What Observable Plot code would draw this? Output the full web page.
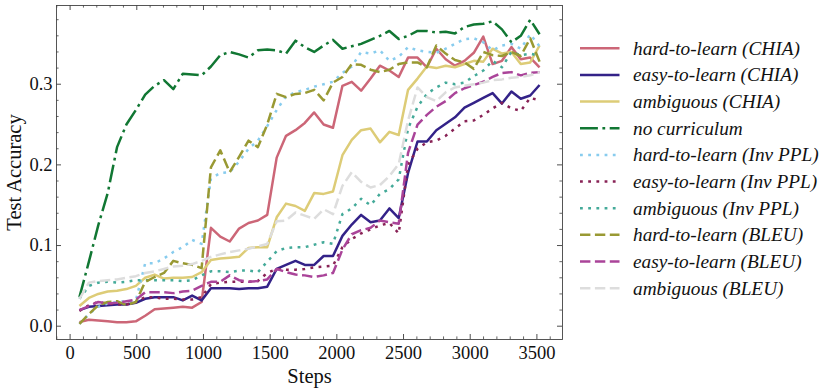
<!DOCTYPE html>
<html>
<head>
<meta charset="utf-8">
<script src="https://cdn.jsdelivr.net/npm/d3@7"></script>
<script src="https://cdn.jsdelivr.net/npm/@observablehq/plot@0.6"></script>
<style>
  html, body { margin: 0; padding: 0; background: #fff; }
  #wrap { position: relative; width: 830px; height: 389px; }
  #legend { position: absolute; left: 0; top: 0; }
</style>
</head>
<body>
<div id="wrap"></div>
<script>
// ---- data ----
const steps = [70, 141, 211, 282, 352, 422, 493, 563, 634, 704,
  774, 845, 915, 986, 1056, 1126, 1197, 1267, 1338, 1408,
  1478, 1549, 1619, 1690, 1760, 1830, 1901, 1971, 2042, 2112,
  2182, 2253, 2323, 2394, 2464, 2534, 2605, 2675, 2746, 2816,
  2886, 2957, 3027, 3098, 3168, 3238, 3309, 3379, 3450, 3520];

const hardCHIA = [0.005,0.008,0.007,0.006,0.005,0.005,0.006,0.013,0.021,0.022,
  0.023,0.024,0.023,0.030,0.122,0.111,0.105,0.121,0.128,0.131,
  0.138,0.209,0.236,0.243,0.252,0.265,0.250,0.246,0.298,0.303,
  0.292,0.307,0.323,0.317,0.309,0.333,0.333,0.321,0.344,0.331,
  0.323,0.329,0.339,0.359,0.325,0.329,0.346,0.331,0.333,0.321];
const easyCHIA = [0.020,0.024,0.025,0.026,0.027,0.027,0.029,0.034,0.036,0.036,
  0.036,0.032,0.038,0.032,0.047,0.047,0.047,0.046,0.047,0.047,
  0.049,0.071,0.076,0.081,0.076,0.076,0.087,0.087,0.112,0.126,
  0.138,0.129,0.131,0.146,0.134,0.190,0.229,0.229,0.243,0.251,
  0.259,0.271,0.277,0.283,0.289,0.276,0.291,0.282,0.286,0.299];
const ambCHIA = [0.025,0.035,0.040,0.043,0.044,0.046,0.050,0.060,0.064,0.059,
  0.060,0.060,0.061,0.067,0.082,0.084,0.085,0.086,0.097,0.098,
  0.098,0.135,0.152,0.149,0.143,0.165,0.164,0.167,0.212,0.231,
  0.243,0.245,0.228,0.241,0.237,0.293,0.307,0.322,0.320,0.323,
  0.321,0.325,0.329,0.328,0.344,0.338,0.340,0.325,0.327,0.348];
const noCurriculum = [0.036,0.080,0.125,0.165,0.222,0.250,0.268,0.287,0.298,0.305,
  0.294,0.313,0.312,0.311,0.322,0.336,0.340,0.337,0.333,0.342,
  0.343,0.342,0.338,0.354,0.346,0.340,0.348,0.355,0.344,0.347,
  0.350,0.355,0.360,0.366,0.356,0.360,0.366,0.366,0.364,0.365,
  0.363,0.371,0.374,0.375,0.378,0.368,0.352,0.360,0.380,0.362];
const hardPPL = [0.003,0.015,0.024,0.028,0.030,0.031,0.032,0.078,0.078,0.084,
  0.092,0.098,0.107,0.102,0.183,0.190,0.191,0.204,0.220,0.230,
  0.248,0.268,0.285,0.290,0.293,0.297,0.300,0.303,0.314,0.322,
  0.340,0.338,0.342,0.329,0.334,0.346,0.342,0.340,0.339,0.344,
  0.350,0.356,0.357,0.352,0.342,0.348,0.350,0.344,0.362,0.347];
const easyPPL = [0.019,0.026,0.030,0.028,0.027,0.027,0.030,0.036,0.036,0.034,
  0.034,0.033,0.033,0.036,0.052,0.054,0.055,0.055,0.055,0.056,
  0.066,0.071,0.070,0.070,0.071,0.073,0.074,0.075,0.098,0.108,
  0.115,0.120,0.125,0.128,0.115,0.200,0.220,0.228,0.230,0.236,
  0.245,0.254,0.255,0.262,0.270,0.277,0.270,0.267,0.283,0.280];
const ambPPL = [0.034,0.050,0.054,0.055,0.054,0.055,0.057,0.057,0.057,0.057,
  0.057,0.056,0.057,0.063,0.068,0.068,0.067,0.069,0.069,0.067,
  0.080,0.093,0.097,0.098,0.098,0.101,0.104,0.102,0.139,0.146,
  0.158,0.150,0.164,0.170,0.182,0.245,0.272,0.288,0.296,0.302,
  0.300,0.302,0.310,0.317,0.329,0.321,0.340,0.336,0.338,0.335];
const hardBLEU = [0.003,0.015,0.026,0.030,0.031,0.026,0.030,0.055,0.061,0.066,
  0.081,0.078,0.076,0.072,0.197,0.218,0.191,0.210,0.230,0.222,
  0.250,0.288,0.284,0.288,0.289,0.293,0.280,0.302,0.309,0.325,
  0.324,0.318,0.315,0.318,0.325,0.327,0.327,0.321,0.348,0.338,
  0.330,0.327,0.319,0.340,0.336,0.335,0.340,0.335,0.357,0.328];
const easyBLEU = [0.020,0.025,0.030,0.028,0.029,0.031,0.033,0.042,0.042,0.042,
  0.041,0.043,0.044,0.050,0.055,0.055,0.063,0.057,0.055,0.056,
  0.058,0.071,0.067,0.064,0.063,0.061,0.063,0.066,0.095,0.114,
  0.119,0.122,0.131,0.129,0.127,0.215,0.250,0.262,0.272,0.279,
  0.289,0.295,0.299,0.303,0.309,0.314,0.315,0.311,0.314,0.315];
const ambBLEU = [0.034,0.054,0.056,0.057,0.058,0.060,0.062,0.066,0.068,0.071,
  0.074,0.075,0.077,0.081,0.086,0.089,0.092,0.094,0.096,0.099,
  0.102,0.130,0.131,0.141,0.137,0.133,0.145,0.139,0.174,0.191,
  0.179,0.172,0.175,0.186,0.201,0.255,0.296,0.284,0.279,0.290,
  0.296,0.298,0.300,0.302,0.305,0.306,0.308,0.309,0.311,0.315];

const seriesNames = ["hard-to-learn (CHIA)", "easy-to-learn (CHIA)", "ambiguous (CHIA)", "no curriculum",
  "hard-to-learn (Inv PPL)", "easy-to-learn (Inv PPL)", "ambiguous (Inv PPL)",
  "hard-to-learn (BLEU)", "easy-to-learn (BLEU)", "ambiguous (BLEU)"];
const seriesValues = [hardCHIA, easyCHIA, ambCHIA, noCurriculum, hardPPL, easyPPL, ambPPL, hardBLEU, easyBLEU, ambBLEU];
const seriesColors = ["#CC6677", "#332288", "#DDCC77", "#117733", "#88CCEE", "#882255", "#44AA99", "#999933", "#AA4499", "#DDDDDD"];
const seriesStyles = ["solid", "solid", "solid", "dashdot", "dotted", "dotted", "dotted", "dashed", "dashed", "dashed"];

const xMajorTicks = [0, 500, 1000, 1500, 2000, 2500, 3000, 3500];
const yMajorTicks = [0.0, 0.1, 0.2, 0.3];
const xMinorTicks = d3.range(-100, 3700, 100).filter(d => d % 500 !== 0);
const yMinorTicks = d3.range(2, 40, 2).filter(d => d % 10 !== 0).map(d => d / 100);

// ---- styles ----
const dashes = {solid: null, dashdot: "17.9,4.5,2.8,4.5", dotted: "2.8,5.4", dashed: "10.4,4.5"};
const LW = 2.5;
const W = 830, H = 389;
const mL = 56, mR = 268, mT = 5, mB = 50;
const plotW = W - mL - mR, plotH = H - mT - mB;
const majLen = 5, minLen = 2.6;
const font = "'Liberation Serif', 'Times New Roman', serif";

const lineMarks = seriesValues.map((vals, i) =>
  Plot.line(vals.map((v, k) => ({step: steps[k], acc: v})), {
    x: "step", y: "acc",
    stroke: seriesColors[i], strokeWidth: LW,
    strokeDasharray: dashes[seriesStyles[i]] || undefined,
    strokeLinecap: "butt", strokeLinejoin: "round"
  })
);

const tickStroke = "#222";
const tickMarks = [
  Plot.tickX(xMajorTicks, {x: d => d, insetTop: plotH - majLen, stroke: tickStroke, strokeWidth: 0.8}),
  Plot.tickX(xMajorTicks, {x: d => d, insetBottom: plotH - majLen, stroke: tickStroke, strokeWidth: 0.8}),
  Plot.tickX(xMinorTicks, {x: d => d, insetTop: plotH - minLen, stroke: tickStroke, strokeWidth: 0.7}),
  Plot.tickX(xMinorTicks, {x: d => d, insetBottom: plotH - minLen, stroke: tickStroke, strokeWidth: 0.7}),
  Plot.tickY(yMajorTicks, {y: d => d, insetRight: plotW - majLen, stroke: tickStroke, strokeWidth: 0.8}),
  Plot.tickY(yMajorTicks, {y: d => d, insetLeft: plotW - majLen, stroke: tickStroke, strokeWidth: 0.8}),
  Plot.tickY(yMinorTicks, {y: d => d, insetRight: plotW - minLen, stroke: tickStroke, strokeWidth: 0.7}),
  Plot.tickY(yMinorTicks, {y: d => d, insetLeft: plotW - minLen, stroke: tickStroke, strokeWidth: 0.7})
];

const chart = Plot.plot({
  width: W, height: H,
  marginLeft: mL, marginRight: mR, marginTop: mT, marginBottom: mB,
  style: {fontFamily: font, fontSize: "18.5px", background: "white", color: "#111", overflow: "visible"},
  x: {domain: [-102, 3692], ticks: xMajorTicks, tickSize: 0, tickPadding: 6, tickFormat: d => String(d), label: null},
  y: {domain: [-0.0165, 0.3976], ticks: yMajorTicks, tickSize: 0, tickPadding: 4, tickFormat: d => d.toFixed(1), label: null},
  marks: [
    ...lineMarks,
    ...tickMarks,
    Plot.frame({stroke: "#444", strokeWidth: 0.9}),
    Plot.text(["Steps"], {frameAnchor: "bottom", dy: 37, lineAnchor: "middle", text: d => d, fontSize: 20.5, fill: "#111"}),
    Plot.text(["Test Accuracy"], {frameAnchor: "left", dx: -42, rotate: -90, textAnchor: "middle", lineAnchor: "middle", text: d => d, fontSize: 20.5, fill: "#111"})
  ]
});

const wrap = document.getElementById("wrap");
wrap.appendChild(chart);

// ---- legend ----
const leg = d3.select(wrap).append("svg")
  .attr("id", "legend")
  .attr("width", W).attr("height", H)
  .style("pointer-events", "none");
const rowY0 = 48.3, rowDy = 26.65;
seriesNames.forEach((name, i) => {
  const y = rowY0 + rowDy * i;
  leg.append("line")
    .attr("x1", 580).attr("x2", 619.5).attr("y1", y).attr("y2", y)
    .attr("stroke", seriesColors[i]).attr("stroke-width", LW)
    .attr("stroke-linecap", "butt")
    .attr("stroke-dasharray", dashes[seriesStyles[i]]);
  leg.append("text")
    .attr("x", 633).attr("y", y).attr("dy", "0.33em")
    .attr("font-family", font).attr("font-style", "italic").attr("font-size", 19.3)
    .attr("fill", "#111")
    .text(name);
});
</script>
</body>
</html>
